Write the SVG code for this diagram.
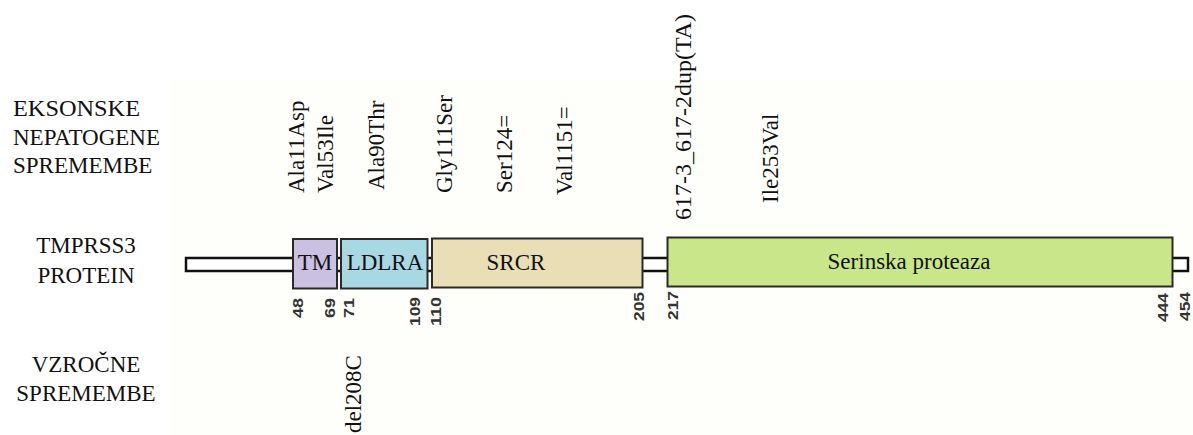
<svg xmlns="http://www.w3.org/2000/svg" width="1193" height="435" viewBox="0 0 1193 435">
<style>
.lbl{font-family:'Liberation Serif','DejaVu Serif',serif;font-size:23px;fill:#111}
.mut{font-family:'Liberation Serif','DejaVu Serif',serif;font-size:23px;fill:#111}
.num{font-family:'Liberation Sans','DejaVu Sans',sans-serif;font-size:15px;font-weight:bold;fill:#333;text-anchor:end}
.box{stroke:#2a2a2a;stroke-width:2}
.dom{font-family:'Liberation Serif','DejaVu Serif',serif;font-size:23px;fill:#111;text-anchor:middle}
</style>
<rect x="0" y="0" width="1193" height="435" fill="#ffffff"/>
<rect x="170" y="80" width="1023" height="355" fill="#fefefa"/>
<g id="row-labels">
<text class="lbl" x="13" y="116" textLength="127" lengthAdjust="spacingAndGlyphs">EKSONSKE</text>
<text class="lbl" x="13" y="145">NEPATOGENE</text>
<text class="lbl" x="13" y="173">SPREMEMBE</text>
<text class="lbl" x="86" y="253" text-anchor="middle">TMPRSS3</text>
<text class="lbl" x="86" y="283" text-anchor="middle">PROTEIN</text>
<text class="lbl" x="86" y="372" text-anchor="middle">VZROČNE</text>
<text class="lbl" x="86" y="401" text-anchor="middle">SPREMEMBE</text>
</g>
<g id="connectors">
<rect id="stem" x="186" y="258" width="1002" height="13" fill="#ffffff" stroke="#111" stroke-width="2.5"/>
</g>
<g id="TM">
<rect class="box" x="293" y="239" width="44" height="49.5" fill="#c9c0e2"/>
<text class="dom" x="315" y="270">TM</text>
</g>
<g id="LDLRA">
<rect class="box" x="341" y="239" width="86.5" height="49.5" fill="#a9d8e5"/>
<text class="dom" x="385" y="270">LDLRA</text>
</g>
<g id="SRCR">
<rect class="box" x="432" y="238.5" width="210.5" height="49" fill="#e9deb6"/>
<text class="dom" x="516" y="270">SRCR</text>
</g>
<g id="serinska-proteaza">
<rect class="box" x="667.5" y="237.5" width="505" height="49" fill="#c9e78a"/>
<text class="dom" x="909" y="269">Serinska proteaza</text>
</g>
<g id="positions">
<text class="num" transform="translate(303,298) rotate(-90)" textLength="20" lengthAdjust="spacingAndGlyphs">48</text>
<text class="num" transform="translate(335,298) rotate(-90)" textLength="20" lengthAdjust="spacingAndGlyphs">69</text>
<text class="num" transform="translate(354,298) rotate(-90)" textLength="20" lengthAdjust="spacingAndGlyphs">71</text>
<text class="num" transform="translate(420,297) rotate(-90)" textLength="29" lengthAdjust="spacingAndGlyphs">109</text>
<text class="num" transform="translate(441,297) rotate(-90)" textLength="29" lengthAdjust="spacingAndGlyphs">110</text>
<text class="num" transform="translate(644,292) rotate(-90)" textLength="29" lengthAdjust="spacingAndGlyphs">205</text>
<text class="num" transform="translate(678,291) rotate(-90)" textLength="29" lengthAdjust="spacingAndGlyphs">217</text>
<text class="num" transform="translate(1168,293) rotate(-90)" textLength="29" lengthAdjust="spacingAndGlyphs">444</text>
<text class="num" transform="translate(1190,292) rotate(-90)" textLength="29" lengthAdjust="spacingAndGlyphs">454</text>
</g>
<g id="mutations">
<text class="mut" transform="translate(304,193) rotate(-90)">Ala11Asp</text>
<text class="mut" transform="translate(333,193) rotate(-90)">Val53Ile</text>
<text class="mut" transform="translate(384,190) rotate(-90)">Ala90Thr</text>
<text class="mut" transform="translate(452,193) rotate(-90)">Gly111Ser</text>
<text class="mut" transform="translate(512,193) rotate(-90)">Ser124=</text>
<text class="mut" transform="translate(572,195) rotate(-90)">Val1151=</text>
<text class="mut" transform="translate(691,220) rotate(-90)" textLength="206" lengthAdjust="spacingAndGlyphs">617-3_617-2dup(TA)</text>
<text class="mut" transform="translate(778,203) rotate(-90)">Ile253Val</text>
<text class="mut" transform="translate(361,433) rotate(-90)">del208C</text>
</g>
</svg>
